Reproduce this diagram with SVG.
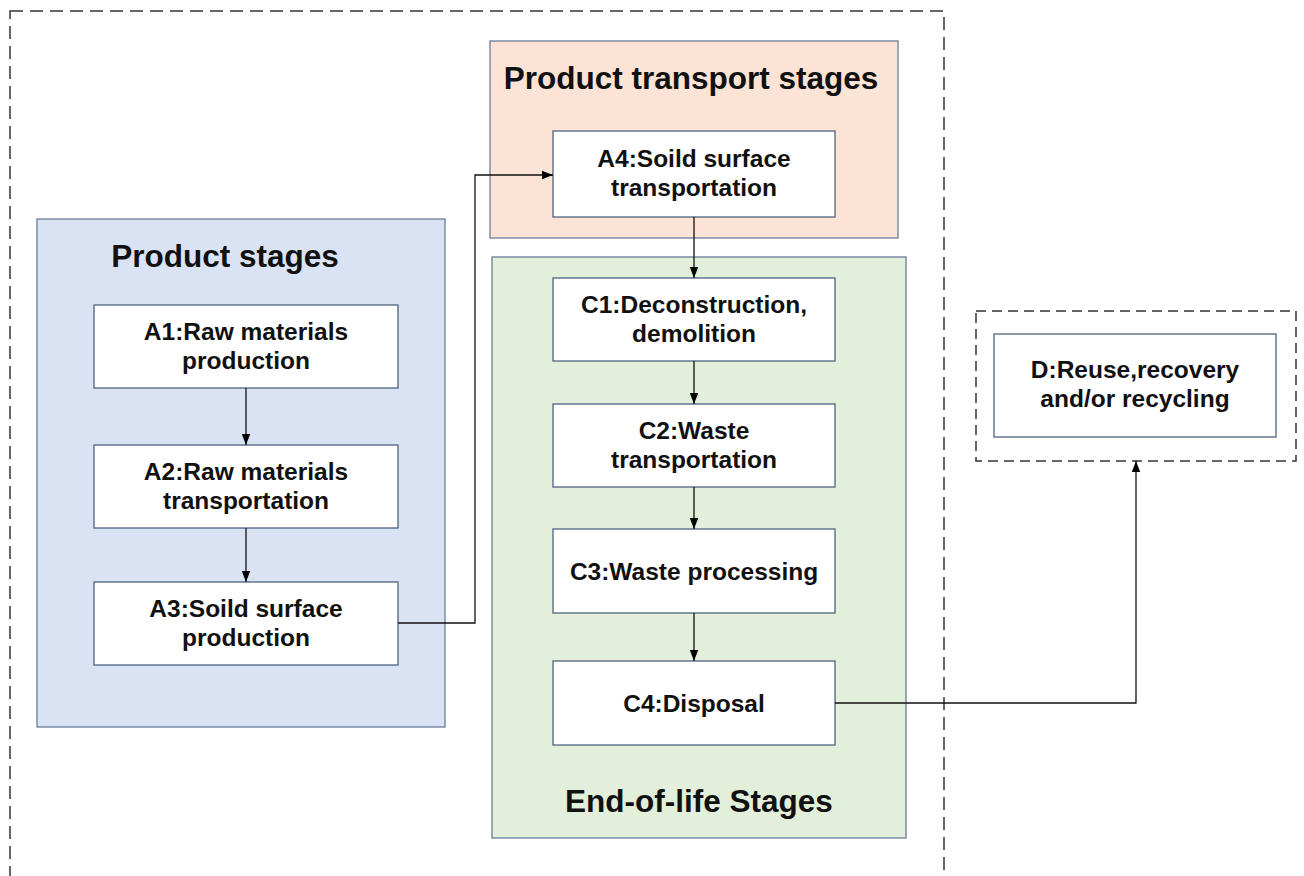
<svg xmlns="http://www.w3.org/2000/svg" width="1304" height="876" viewBox="0 0 1304 876">
<defs>
<marker id="arr" markerUnits="userSpaceOnUse" markerWidth="12" markerHeight="10" refX="11" refY="5" orient="auto">
<path d="M0,0.8 L11,5 L0,9.2 Z" fill="#000"/>
</marker>
<style>
.node{fill:#fff;stroke:#4f6280;stroke-width:1.3}
.t{font-family:"Liberation Sans",Arial,sans-serif;font-weight:bold;font-size:24.5px;fill:#111;text-anchor:middle}
.title{font-family:"Liberation Sans",Arial,sans-serif;font-weight:bold;font-size:31.5px;fill:#111;text-anchor:middle}
.con{fill:none;stroke:#111;stroke-width:1.3}
.dash{fill:none;stroke:#333;stroke-width:1.5}
</style>
</defs>
<rect width="1304" height="876" fill="#fff"/>
<rect class="dash" x="10" y="11" width="934" height="900" stroke-dasharray="13,7"/>

<g id="product-stages">
<rect x="37" y="219" width="408" height="508" fill="#dae3f3" stroke="#6b7c99" stroke-width="1.3"/>
<text class="title" x="225" y="267">Product stages</text>
</g>
<g id="transport-stages">
<rect x="490" y="41" width="408" height="197" fill="#fbe4d6" stroke="#6b7c99" stroke-width="1.3"/>
<text class="title" x="691" y="89">Product transport stages</text>
</g>
<g id="eol-stages">
<rect x="492" y="257" width="414" height="581" fill="#e2efda" stroke="#6b7c99" stroke-width="1.3"/>
<text class="title" x="699" y="812">End-of-life Stages</text>
</g>
<g id="d-group">
<rect class="dash" x="976" y="311" width="320" height="150" stroke-dasharray="10,6"/>
</g>

<g id="A1"><rect class="node" x="94" y="305" width="304" height="83"/>
<text class="t" x="246" y="340">A1:Raw materials</text><text class="t" x="246" y="369">production</text></g>
<g id="A2"><rect class="node" x="94" y="445" width="304" height="83"/>
<text class="t" x="246" y="480">A2:Raw materials</text><text class="t" x="246" y="509">transportation</text></g>
<g id="A3"><rect class="node" x="94" y="582" width="304" height="83"/>
<text class="t" x="246" y="617">A3:Soild surface</text><text class="t" x="246" y="646">production</text></g>
<g id="A4"><rect class="node" x="553" y="131" width="282" height="86"/>
<text class="t" x="694" y="167">A4:Soild surface</text><text class="t" x="694" y="196">transportation</text></g>
<g id="C1"><rect class="node" x="553" y="278" width="282" height="83"/>
<text class="t" x="694" y="313">C1:Deconstruction,</text><text class="t" x="694" y="342">demolition</text></g>
<g id="C2"><rect class="node" x="553" y="404" width="282" height="83"/>
<text class="t" x="694" y="439">C2:Waste</text><text class="t" x="694" y="468">transportation</text></g>
<g id="C3"><rect class="node" x="553" y="529" width="282" height="84"/>
<text class="t" x="694" y="580">C3:Waste processing</text></g>
<g id="C4"><rect class="node" x="553" y="661" width="282" height="84"/>
<text class="t" x="694" y="712">C4:Disposal</text></g>
<g id="D"><rect class="node" x="994" y="334" width="282" height="103"/>
<text class="t" x="1135" y="378">D:Reuse,recovery</text><text class="t" x="1135" y="407">and/or recycling</text></g>

<g id="connectors">
<path class="con" d="M246,388 V445" marker-end="url(#arr)"/>
<path class="con" d="M246,528 V582" marker-end="url(#arr)"/>
<path class="con" d="M398,623 H475 V175 H553" marker-end="url(#arr)"/>
<path class="con" d="M694,217 V278" marker-end="url(#arr)"/>
<path class="con" d="M694,361 V404" marker-end="url(#arr)"/>
<path class="con" d="M694,487 V529" marker-end="url(#arr)"/>
<path class="con" d="M694,613 V661" marker-end="url(#arr)"/>
<path class="con" d="M835,703 H1136 V461" marker-end="url(#arr)"/>
</g>
</svg>
